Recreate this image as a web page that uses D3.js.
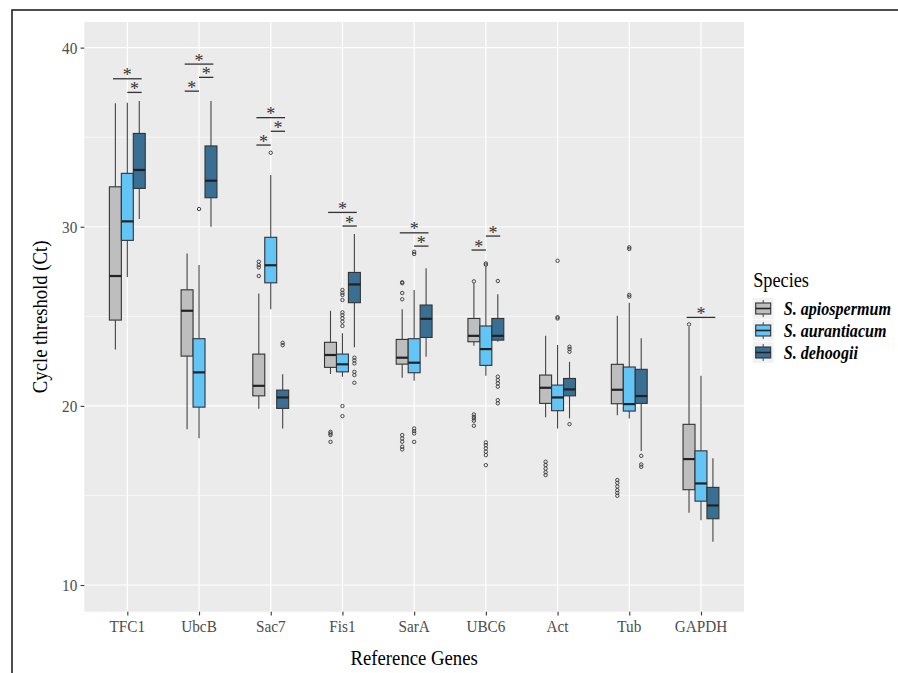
<!DOCTYPE html>
<html><head><meta charset="utf-8">
<script src="https://cdn.jsdelivr.net/npm/d3@7"></script>
<style>body{margin:0;background:#fff} svg{display:block}</style>
</head><body><svg id="c" width="898" height="673"></svg>
<script>
// ---------- data ----------
const genes = ["TFC1","UbcB","Sac7","Fis1","SarA","UBC6","Act","Tub","GAPDH"];
const species = ["S. apiospermum","S. aurantiacum","S. dehoogii"];
const speciesColors = ["#BEBEBE","#63C5F5","#386F92"];
const yTicks = [10,20,30,40];
const yMinorTicks = [15,25,35];

// [lower whisker, Q1, median, Q3, upper whisker]
const statsApiospermum = [
  [23.15,24.79,27.25,32.23,36.89],
  [18.69,22.78,25.31,26.48,28.51],
  [19.84,20.56,21.12,22.89,26.28],
  [21.78,22.15,22.84,23.55,25.31],
  [21.57,22.33,22.69,23.71,25.39],
  [23.36,23.58,23.91,24.88,26.84],
  [19.36,20.14,21.01,21.72,23.91],
  [19.47,20.12,20.90,22.32,25.03],
  [14.03,15.32,17.03,18.97,24.42]
];
const statsAurantiacum = [
  [27.19,29.24,30.30,32.98,36.92],
  [18.19,19.93,21.87,23.75,27.86],
  [25.39,26.87,27.85,29.41,32.89],
  [21.63,21.90,22.32,22.89,24.05],
  [21.40,21.85,22.41,23.75,26.47],
  [21.68,22.26,23.17,24.46,27.77],
  [18.74,19.73,20.47,21.16,23.40],
  [19.30,19.71,20.10,22.17,25.76],
  [13.62,14.68,15.67,17.49,21.68]
];
const statsDehoogii = [
  [30.43,32.14,33.17,35.21,37.02],
  [30.00,31.62,32.57,34.51,37.02],
  [18.74,19.86,20.47,20.88,21.76],
  [23.27,25.76,26.78,27.45,29.59],
  [22.74,23.82,24.86,25.63,27.68],
  [23.58,23.67,23.91,24.88,26.23],
  [19.30,20.56,20.92,21.53,22.46],
  [17.48,20.14,20.55,22.04,23.77],
  [12.41,13.70,14.44,15.45,17.07]
];
const outliersApiospermum = [
  [],[],
  [28.05,27.86,27.73,27.25],
  [18.55,18.46,18.37,17.99],
  [26.90,26.85,26.30,25.95,18.37,18.18,18.00,17.72,17.57],
  [26.95,19.52,19.39,19.30,19.17,18.89],
  [16.88,16.70,16.50,16.30,16.14],
  [15.86,15.70,15.50,15.30,15.14,14.98],
  [24.55]
];
const outliersAurantiacum = [
  [],
  [30.99],
  [34.13],
  [26.47,26.31,26.19,25.91,25.22,25.07,24.89,24.70,24.46,19.99,19.43],
  [28.60,28.48,18.74,18.59,18.46,17.99],
  [27.95,27.88,17.96,17.81,17.63,17.44,17.25,16.69],
  [28.10,24.95,24.88],
  [28.85,28.76,26.20,26.10],
  []
];
const outliersDehoogii = [
  [],[],
  [23.52,23.39],
  [22.69,22.54,22.37,21.90,21.72,21.29],
  [],
  [26.97,21.63,21.44,21.26,21.07,20.32,20.14],
  [23.30,23.17,23.02,18.98],
  [17.21,16.73,16.60],
  []
];
// significance brackets
const sigGene = ["TFC1","TFC1","UbcB","UbcB","UbcB","Sac7","Sac7","Sac7","Fis1","Fis1","SarA","SarA","UBC6","UBC6","GAPDH"];
const sigFrom = [-0.2,0,-0.2,0,-0.2,-0.2,0,-0.2,-0.2,0,-0.2,0,-0.2,0,-0.2];
const sigTo   = [0.2,0.2,0.2,0.2,0,0.2,0.2,0,0.2,0.2,0.2,0.2,0,0.2,0.2];
const sigY    = [38.26,37.50,39.08,38.34,37.57,36.09,35.33,34.56,30.80,30.04,29.66,28.92,28.70,29.48,24.94];

const allStats = [statsApiospermum, statsAurantiacum, statsDehoogii];
const allOut = [outliersApiospermum, outliersAurantiacum, outliersDehoogii];

// ---------- layout ----------
const P = {l:84.3, r:744, t:22, b:611.7};
const FONT = "'Liberation Serif','Times New Roman',serif";
const SX = 0.87; // horizontal condensing of the reference's text
const svg = d3.select("#c");

const x = d3.scalePoint().domain(genes).range([P.l, P.r]).padding(0.6);
const step = x.step();
const y = d3.scaleLinear().domain([8.51, 41.43]).range([P.b, P.t]);
const dodge = 0.5/3; // width of each box in category units

function label(parent, tx, ty, str, size, anchor, opts={}) {
  const t = parent.append("text")
    .attr("transform", `translate(${tx},${ty})${opts.rotate?` rotate(${opts.rotate})`:""} scale(${SX},1)`)
    .attr("text-anchor", anchor).attr("font-family", FONT).attr("font-size", size)
    .attr("fill", opts.fill || "#000").text(str);
  if (opts.bold) t.attr("font-weight","bold");
  if (opts.italic) t.attr("font-style","italic");
  return t;
}

// outer border (cropped figure frame)
svg.append("rect").attr("x",12).attr("y",10).attr("width",1000).attr("height",1000)
  .attr("fill","none").attr("stroke","#222").attr("stroke-width",1.6);

// panel
svg.append("rect").attr("x",P.l).attr("y",P.t).attr("width",P.r-P.l).attr("height",P.b-P.t).attr("fill","#EBEBEB");
const grid = svg.append("g");
grid.selectAll(".mn").data(yMinorTicks).join("line")
  .attr("x1",P.l).attr("x2",P.r).attr("y1",d=>y(d)).attr("y2",d=>y(d))
  .attr("stroke","#fff").attr("stroke-width",0.6);
grid.selectAll(".mj").data(yTicks).join("line")
  .attr("x1",P.l).attr("x2",P.r).attr("y1",d=>y(d)).attr("y2",d=>y(d))
  .attr("stroke","#fff").attr("stroke-width",1.2);
grid.selectAll(".vx").data(genes).join("line")
  .attr("y1",P.t).attr("y2",P.b).attr("x1",d=>x(d)).attr("x2",d=>x(d))
  .attr("stroke","#fff").attr("stroke-width",1.2);

// axes (ticks via d3 axes, labels condensed)
const yAxis = d3.axisLeft(y).tickValues(yTicks).tickSize(3.7).tickFormat("");
const gy = svg.append("g").attr("transform",`translate(${P.l},0)`).call(yAxis);
const xAxis = d3.axisBottom(x).tickSize(3.7).tickFormat("");
const gx = svg.append("g").attr("transform",`translate(0,${P.b})`).call(xAxis);
[gx,gy].forEach(g=>{
  g.select(".domain").remove();
  g.selectAll(".tick line").attr("stroke","#333").attr("stroke-width",1.1);
});
yTicks.forEach(v => label(svg, P.l-7, y(v)+6, String(v), 17.5, "end", {fill:"#4D4D4D"}));
genes.forEach(g => label(svg, x(g), P.b+20, g, 17.5, "middle", {fill:"#4D4D4D"}));

// boxes
const marks = svg.append("g");
allStats.forEach((stats, si) => {
  const col = speciesColors[si];
  genes.forEach((g, gi) => {
    const s = stats[gi];
    const cx = x(g) + (si-1)*dodge*step;
    const w = dodge*step;
    const grp = marks.append("g");
    grp.append("line").attr("x1",cx).attr("x2",cx).attr("y1",y(s[4])).attr("y2",y(s[3]))
      .attr("stroke","#444").attr("stroke-width",1.1);
    grp.append("line").attr("x1",cx).attr("x2",cx).attr("y1",y(s[1])).attr("y2",y(s[0]))
      .attr("stroke","#444").attr("stroke-width",1.1);
    grp.append("rect").attr("x",cx-w/2).attr("width",w).attr("y",y(s[3])).attr("height",y(s[1])-y(s[3]))
      .attr("fill",col).attr("stroke","#333").attr("stroke-width",1.1);
    grp.append("line").attr("x1",cx-w/2).attr("x2",cx+w/2).attr("y1",y(s[2])).attr("y2",y(s[2]))
      .attr("stroke","#222").attr("stroke-width",2.2);
    grp.selectAll("circle").data(allOut[si][gi]).join("circle")
      .attr("cx",cx).attr("cy",d=>y(d)).attr("r",1.7)
      .attr("fill","none").attr("stroke","#333").attr("stroke-width",0.9);
  });
});

// significance
const sig = svg.append("g");
sigGene.forEach((g,i)=>{
  const x1 = x(g)+sigFrom[i]*step, x2 = x(g)+sigTo[i]*step, yy = y(sigY[i]);
  sig.append("line").attr("x1",x1).attr("x2",x2).attr("y1",yy).attr("y2",yy)
    .attr("stroke","#333").attr("stroke-width",1.3);
  sig.append("text").attr("x",(x1+x2)/2).attr("y",yy+2.5).attr("text-anchor","middle")
    .attr("font-family",FONT).attr("font-size",18).attr("fill","#333").text("*");
});

// axis titles
label(svg, (P.l+P.r)/2, 665, "Reference Genes", 21.5, "middle");
label(svg, 47, (P.t+P.b)/2, "Cycle threshold (Ct)", 21.5, "middle", {rotate:-90});

// legend
const lg = svg.append("g").attr("transform","translate(752.7,0)");
label(lg, 0.5, 287, "Species", 21, "start");
const keySize = 21, keyGap = 22, keyTop = 298;
species.forEach((sp,i)=>{
  const ky = keyTop + i*keyGap;
  const k = lg.append("g").attr("transform",`translate(0,${ky})`);
  k.append("rect").attr("width",keySize).attr("height",keySize).attr("fill","#F2F2F2");
  const cx = keySize/2;
  k.append("line").attr("x1",cx).attr("x2",cx).attr("y1",2).attr("y2",keySize-2).attr("stroke","#444").attr("stroke-width",1);
  k.append("rect").attr("x",3).attr("y",5).attr("width",keySize-6).attr("height",keySize-10)
    .attr("fill",speciesColors[i]).attr("stroke","#333").attr("stroke-width",1.1);
  k.append("line").attr("x1",3).attr("x2",keySize-3).attr("y1",keySize/2).attr("y2",keySize/2).attr("stroke","#222").attr("stroke-width",1.6);
  label(lg, 31, ky+keySize/2+6, sp, 18.5, "start", {bold:true, italic:true});
});
</script></body></html>
